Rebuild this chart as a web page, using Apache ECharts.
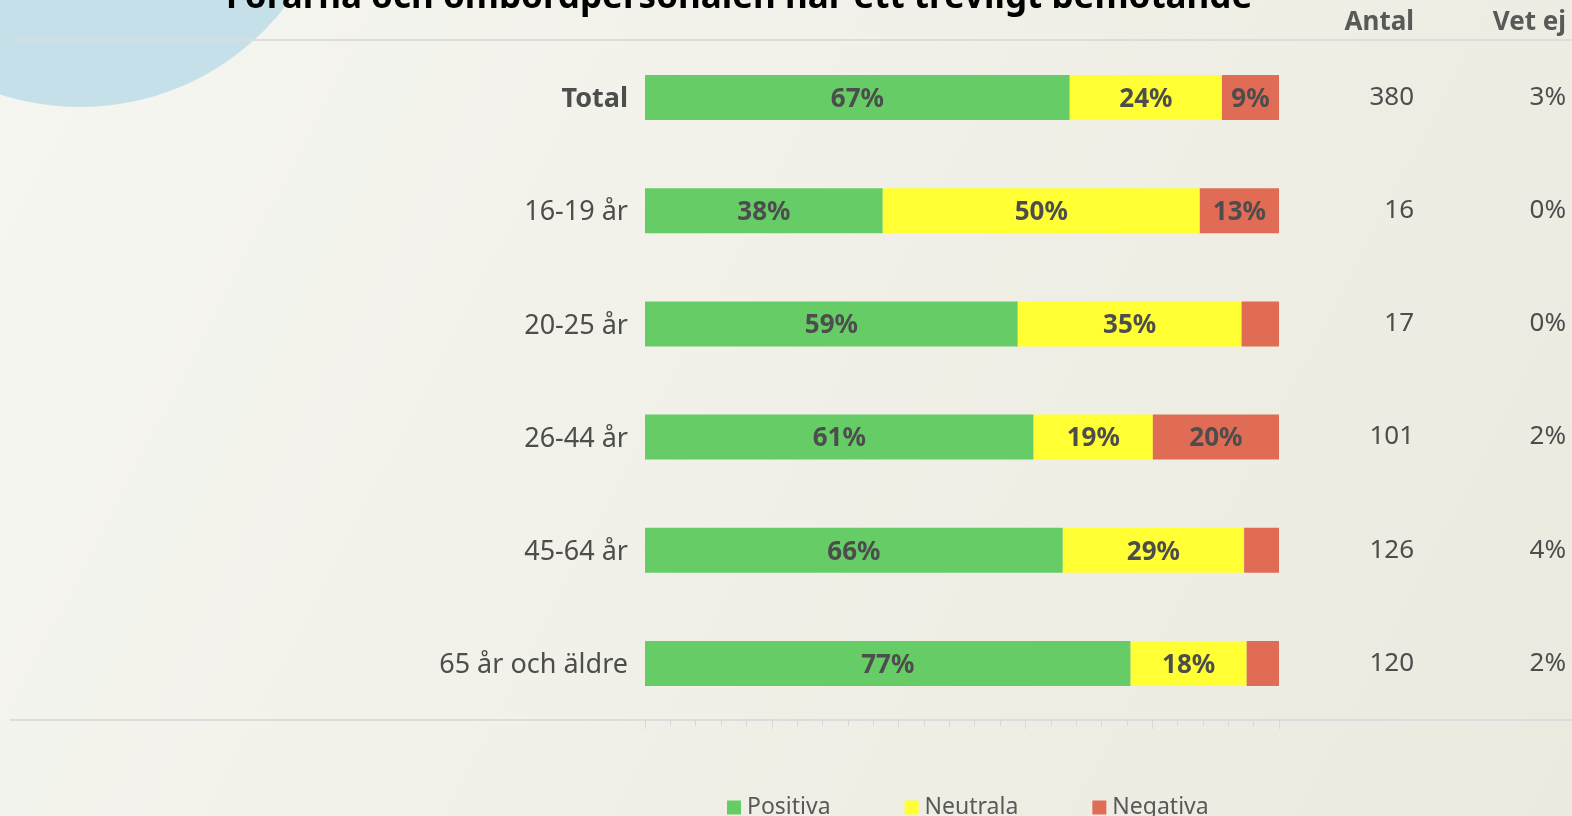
<!DOCTYPE html>
<html>
<head>
<meta charset="utf-8">
<script src="https://cdn.jsdelivr.net/npm/echarts@6/dist/echarts.min.js"></script>
<style>
  html, body { margin: 0; padding: 0; }
  #chart { width: 1572px; height: 816px; }
</style>
</head>
<body>
<div id="chart"></div>
<script>
  // kategorier och värden (andel i procent av de som svarat)
  const categories = ['Total', '16-19 år', '20-25 år', '26-44 år', '45-64 år', '65 år och äldre']
  const positiva = [67, 37.5, 58.8, 61.3, 65.9, 76.6]
  const neutrala = [24, 50, 35.3, 18.8, 28.6, 18.3]
  const negativa = [9, 12.5, 5.9, 19.9, 5.5, 5.1]
  const antal = [380, 16, 17, 101, 126, 120]
  const vetEj = ['3%', '0%', '0%', '2%', '4%', '2%']
  const xTicks = [0, 20, 40, 60, 80, 100]

  const font = 'Noto Sans'
  const textColor = '#4d4d4d'

  let myChart = echarts.init(document.getElementById('chart'))

  function barLabel(){
    return {
      show: true,
      position: 'inside',
      offset: [0, 2],
      fontFamily: font,
      fontSize: 26,
      fontWeight: 'bold',
      color: textColor,
      formatter: function (p) {
        return p.value < 7 ? '' : Math.round(p.value) + '%'
      }
    }
  }

  let option = {
    backgroundColor: {
      type: 'linear', x: 0, y: 0, x2: 1, y2: 1,
      colorStops: [{offset: 0, color: '#f6f6f1'}, {offset: 1, color: '#ebeadf'}]
    },
    color: ['#66cc66', '#ffff33', '#e06c55'],
    textStyle: { fontFamily: font },
    title: [
      {
        text: 'Förarna och ombordpersonalen har ett trevligt bemötande',
        left: 739, top: -19, textAlign: 'center', padding: 0,
        textStyle: { fontFamily: font, fontSize: 35, fontWeight: 'bold', color: '#000' }
      },
      {
        text: 'Antal', right: 158, top: 10, padding: 0,
        textStyle: { fontFamily: font, fontSize: 26, fontWeight: 'bold', color: '#595959' }
      },
      {
        text: 'Vet ej', right: 6, top: 10, padding: 0,
        textStyle: { fontFamily: font, fontSize: 26, fontWeight: 'bold', color: '#595959' }
      }
    ],
    graphic: [
      { type: 'circle', shape: { cx: 80, cy: -153, r: 260 }, style: { fill: '#c6e0e9' }, z: -10 },
      { type: 'line', shape: { x1: 10, y1: 40, x2: 1572, y2: 40 }, style: { stroke: '#dcdcdc', lineWidth: 2 } },
      { type: 'line', shape: { x1: 10, y1: 720, x2: 1572, y2: 720 }, style: { stroke: '#dcdcdc', lineWidth: 2 } }
    ],
    legend: {
      left: 722, top: 791,
      itemWidth: 14, itemHeight: 14, itemGap: 74,
      icon: 'rect',
      textStyle: { fontFamily: font, fontSize: 23, color: '#595959', padding: [0, 0, 0, 1] },
      data: ['Positiva', 'Neutrala', 'Negativa']
    },
    grid: { left: 645, right: 293, top: 41, bottom: 96 },
    xAxis: {
      type: 'value',
      min: xTicks[0], max: xTicks[xTicks.length - 1], interval: 20,
      axisLine: { show: false },
      axisTick: { show: true, length: 9, lineStyle: { color: '#d8d8d8' } },
      minorTick: { show: true, splitNumber: 5, length: 6, lineStyle: { color: '#d8d8d8' } },
      axisLabel: { show: false },
      splitLine: { show: false }
    },
    yAxis: [
      {
        type: 'category', inverse: true, data: categories,
        axisLine: { show: false }, axisTick: { show: false },
        axisLabel: {
          margin: 17, fontFamily: font, fontSize: 27, color: textColor, padding: [4, 0, 0, 0],
          formatter: function (v, i) { return i === 0 ? '{b|' + v + '}' : v },
          rich: { b: { fontFamily: font, fontSize: 27, fontWeight: 'bold', color: textColor } }
        }
      },
      {
        type: 'category', inverse: true, position: 'right', data: antal,
        axisLine: { show: false }, axisTick: { show: false },
        axisLabel: { margin: 135, align: 'right', fontFamily: font, fontSize: 26, color: textColor, padding: [4, 0, 0, 0] }
      },
      {
        type: 'category', inverse: true, position: 'right', data: vetEj,
        axisLine: { show: false }, axisTick: { show: false },
        axisLabel: { margin: 287, align: 'right', fontFamily: font, fontSize: 26, color: textColor, padding: [4, 0, 0, 0] }
      }
    ],
    series: [
      { name: 'Positiva', type: 'bar', stack: 'a', barWidth: 45, label: barLabel(), data: positiva },
      { name: 'Neutrala', type: 'bar', stack: 'a', barWidth: 45, label: barLabel(), data: neutrala },
      { name: 'Negativa', type: 'bar', stack: 'a', barWidth: 45, label: barLabel(), data: negativa }
    ]
  }

  myChart.setOption(option)
</script>
</body>
</html>
